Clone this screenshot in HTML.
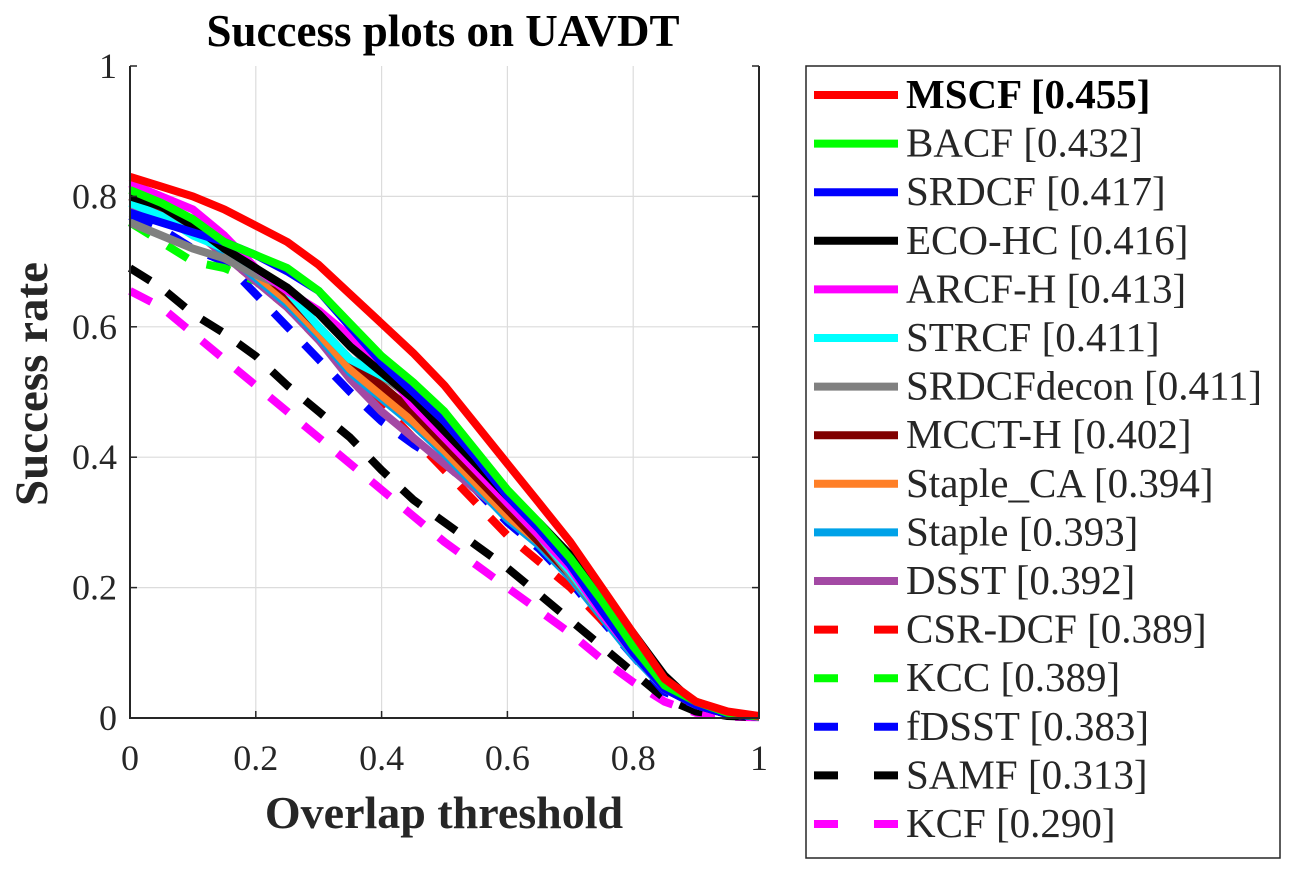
<!DOCTYPE html>
<html><head><meta charset="utf-8"><style>
body{margin:0;background:#fff;}
svg text{font-family:"Liberation Serif",serif;}
</style></head><body>
<svg id="chart" width="1290" height="868" xmlns="http://www.w3.org/2000/svg">
<rect width="1290" height="868" fill="#fff"/>
<g id="grid"></g>
<g id="series"></g>
<g id="axes"></g>
<text x="443" y="46" text-anchor="middle" font-size="45" font-weight="bold">Success plots on UAVDT</text>
<text x="444" y="828" text-anchor="middle" font-size="46" font-weight="bold" fill="#262626">Overlap threshold</text>
<text transform="translate(47,384) rotate(-90)" text-anchor="middle" font-size="47" font-weight="bold" fill="#262626">Success rate</text>
<rect x="806" y="66" width="474" height="792" fill="#fff" stroke="#262626" stroke-width="1.5"/>
<g id="legend"></g>
</svg>
<script>
const xs=[0,0.05,0.1,0.15,0.2,0.25,0.3,0.35,0.4,0.45,0.5,0.55,0.6,0.65,0.7,0.75,0.8,0.85,0.9,0.95,1];
const xTicks=[0,0.2,0.4,0.6,0.8,1];
const yTicks=[0,0.2,0.4,0.6,0.8,1];
const trackerNames=["MSCF","BACF","SRDCF","ECO-HC","ARCF-H","STRCF","SRDCFdecon","MCCT-H","Staple_CA","Staple","DSST","CSR-DCF","KCC","fDSST","SAMF","KCF"];
const aucScores=["0.455","0.432","0.417","0.416","0.413","0.411","0.411","0.402","0.394","0.393","0.392","0.389","0.389","0.383","0.313","0.290"];
const colors=["#ff0000","#00ff00","#0000ff","#000000","#ff00ff","#00ffff","#808080","#800000","#ff7f27","#00a2e8","#a349a4","#ff0000","#00ff00","#0000ff","#000000","#ff00ff"];
const dashed=[0,0,0,0,0,0,0,0,0,0,0,1,1,1,1,1];
const sMSCF=[0.83,0.815,0.80,0.78,0.755,0.73,0.695,0.65,0.605,0.56,0.51,0.45,0.39,0.33,0.27,0.2,0.13,0.06,0.025,0.01,0.003];
const sBACF=[0.81,0.79,0.765,0.73,0.71,0.69,0.655,0.605,0.555,0.515,0.47,0.41,0.35,0.30,0.245,0.18,0.11,0.05,0.025,0.008,0.002];
const sSRDCF=[0.775,0.76,0.745,0.73,0.71,0.685,0.655,0.6,0.545,0.50,0.455,0.40,0.34,0.29,0.235,0.165,0.10,0.045,0.02,0.006,0.002];
const sECO=[0.80,0.785,0.755,0.72,0.69,0.66,0.62,0.57,0.53,0.49,0.44,0.39,0.34,0.30,0.25,0.19,0.13,0.065,0.02,0.006,0.002];
const sARCF=[0.82,0.80,0.78,0.74,0.69,0.655,0.625,0.585,0.54,0.48,0.43,0.38,0.33,0.28,0.23,0.16,0.10,0.045,0.02,0.006,0.002];
const sSTRCF=[0.79,0.77,0.74,0.72,0.69,0.655,0.6,0.55,0.525,0.50,0.45,0.40,0.34,0.28,0.225,0.16,0.10,0.045,0.02,0.006,0.002];
const sSRDCFdecon=[0.76,0.74,0.72,0.705,0.68,0.66,0.62,0.57,0.525,0.49,0.44,0.39,0.33,0.28,0.22,0.16,0.10,0.045,0.02,0.006,0.002];
const sMCCT=[0.80,0.78,0.75,0.72,0.69,0.65,0.60,0.55,0.51,0.47,0.42,0.37,0.32,0.27,0.22,0.16,0.10,0.045,0.02,0.006,0.002];
const sStapleCA=[0.80,0.79,0.755,0.72,0.68,0.64,0.59,0.535,0.495,0.455,0.41,0.36,0.31,0.27,0.22,0.16,0.10,0.045,0.02,0.006,0.002];
const sStaple=[0.79,0.78,0.75,0.715,0.675,0.635,0.585,0.53,0.49,0.45,0.405,0.355,0.305,0.265,0.215,0.155,0.095,0.045,0.02,0.006,0.002];
const sDSST=[0.78,0.77,0.75,0.71,0.67,0.63,0.58,0.52,0.47,0.43,0.39,0.35,0.31,0.27,0.22,0.16,0.10,0.045,0.02,0.006,0.002];
const sCSR=[0.79,0.78,0.75,0.71,0.67,0.63,0.58,0.53,0.48,0.43,0.38,0.33,0.28,0.24,0.2,0.15,0.1,0.045,0.02,0.006,0.002];
const sKCC=[0.76,0.73,0.70,0.69,0.67,0.64,0.6,0.55,0.5,0.47,0.43,0.38,0.33,0.28,0.22,0.16,0.1,0.05,0.02,0.006,0.002];
const sFDSST=[0.77,0.75,0.72,0.70,0.65,0.6,0.55,0.50,0.455,0.42,0.39,0.35,0.30,0.26,0.21,0.15,0.095,0.04,0.02,0.006,0.002];
const sSAMF=[0.69,0.66,0.62,0.59,0.555,0.51,0.47,0.43,0.38,0.335,0.30,0.265,0.23,0.19,0.15,0.11,0.07,0.03,0.01,0.003,0.001];
const sKCF=[0.655,0.63,0.59,0.55,0.51,0.47,0.43,0.39,0.35,0.31,0.27,0.235,0.2,0.165,0.13,0.09,0.055,0.025,0.008,0.002,0.001];
const seriesValues=[sMSCF,sBACF,sSRDCF,sECO,sARCF,sSTRCF,sSRDCFdecon,sMCCT,sStapleCA,sStaple,sDSST,sCSR,sKCC,sFDSST,sSAMF,sKCF];

const X0=130,X1=759,Y0=718,Y1=66;
function xScale(v){return X0+(X1-X0)*v;}
function yScale(v){return Y0-(Y0-Y1)*v;}
const NS="http://www.w3.org/2000/svg";
function mk(tag,attrs,parent){const e=document.createElementNS(NS,tag);for(const k in attrs)e.setAttribute(k,attrs[k]);parent.appendChild(e);return e;}
const grid=document.getElementById('grid'),axes=document.getElementById('axes'),ser=document.getElementById('series'),leg=document.getElementById('legend');
xTicks.forEach(t=>{
  if(t>0&&t<1){const l=mk('line',{x1:xScale(t),x2:xScale(t),y1:Y1,y2:Y0,stroke:'#dcdcdc','stroke-width':1.2},grid);
  
  }
  const tk=mk('line',{x1:xScale(t),x2:xScale(t),y1:Y0,y2:Y0-7,stroke:'#262626','stroke-width':1.5},axes);
  
  
  const tx=mk('text',{x:xScale(t),y:Y0+52,'text-anchor':'middle','font-size':36,fill:'#262626'},axes);
  tx.textContent=String(t);
  
  
});
yTicks.forEach(t=>{
  if(t>0&&t<1){const l=mk('line',{x1:X0,x2:X1,y1:yScale(t),y2:yScale(t),stroke:'#dcdcdc','stroke-width':1.2},grid);
  
  }
  const tk=mk('line',{x1:X0,x2:X0+7,y1:yScale(t),y2:yScale(t),stroke:'#262626','stroke-width':1.5},axes);
  
  
  const tk2=mk('line',{x1:X1,x2:X1-7,y1:yScale(t),y2:yScale(t),stroke:'#262626','stroke-width':1.5},axes);
  
  
  const tx=mk('text',{x:X0-13,y:yScale(t)+12,'text-anchor':'end','font-size':36,fill:'#262626'},axes);
  tx.textContent=String(t);
  
  
});
const frame=mk('path',{d:`M${X0},${Y1}V${Y0}H${X1}V${Y1}`,fill:'none',stroke:'#262626','stroke-width':2},axes);


for(let i=seriesValues.length-1;i>=0;i--){
  const pts=seriesValues[i].map((v,j)=>xScale(xs[j]).toFixed(1)+','+yScale(v).toFixed(1)).join(' ');
  const a={points:pts,fill:'none',stroke:colors[i],'stroke-width':8,'stroke-linejoin':'round'};
  if(dashed[i])a['stroke-dasharray']='24 20';
  const p=mk('polyline',a,ser);
  
  
}
trackerNames.forEach((n,i)=>{
  const y=95+i*48.6;
  const g=mk('g',{},leg);
  
  
  const a={x1:814,x2:898,y1:y,y2:y,stroke:colors[i],'stroke-width':8};
  if(dashed[i])a['stroke-dasharray']='24 36';
  mk('line',a,g);
  const t=mk('text',{x:906,y:y+13,'font-size':41,fill:'#262626'},g);
  if(i===0){t.setAttribute('font-weight','bold');t.setAttribute('fill','#000');}
  t.textContent=n+' ['+aucScores[i]+']';
});
</script>
</body></html>
